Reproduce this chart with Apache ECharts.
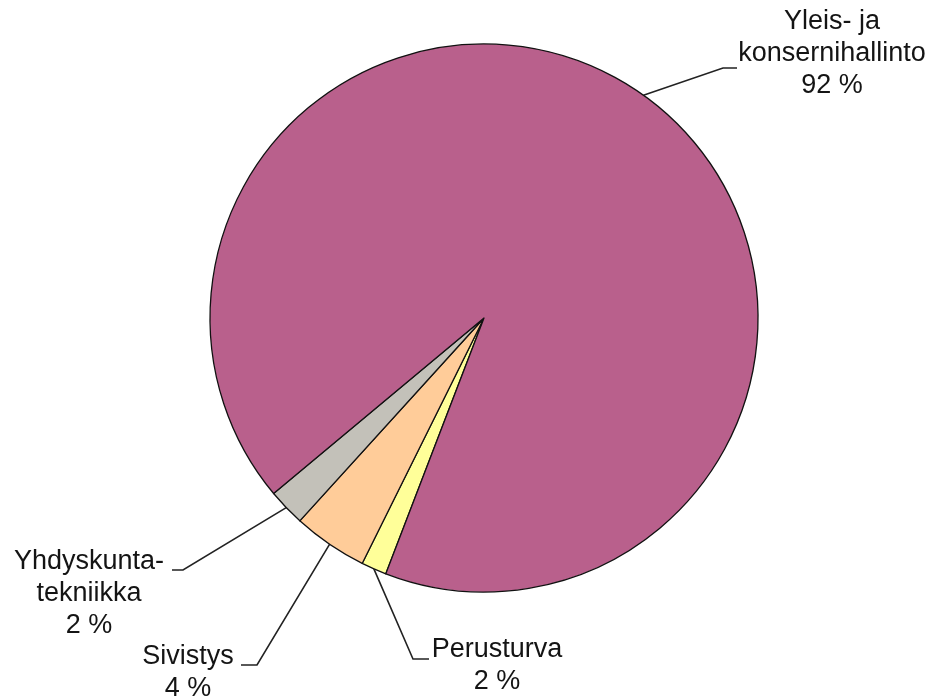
<!DOCTYPE html>
<html>
<head>
<meta charset="utf-8">
<script src="https://cdn.jsdelivr.net/npm/echarts@6/dist/echarts.min.js"></script>
<style>
html,body{margin:0;padding:0;background:#fff;}
#chart{width:936px;height:699px;}
</style>
</head>
<body>
<div id="chart"></div>
<script>
// Data (order as drawn clockwise, starting at the Perusturva slice)
var categories = ['Perusturva', 'Sivistys', 'Yhdyskunta-\ntekniikka', 'Yleis- ja\nkonsernihallinto'];
var shares = [1.5, 4.4, 2.2, 91.9];

// Styles / layout (not data)
var sliceColors = ['#FFFF99', '#FFCC99', '#C3C1B9', '#B9608C'];
var labelLayouts = [
  {x: 497, y: 634, elbow: [413, 659], end: [429, 659]},
  {x: 188, y: 641, elbow: [257, 665], end: [241, 665]},
  {x: 89,  y: 546, elbow: [183, 570], end: [172, 570]},
  {x: 832, y: 6,   elbow: [723, 68],  end: [737, 68]}
];

var chart = echarts.init(document.getElementById('chart'), null, {renderer: 'canvas'});
var seriesData = categories.map(function (c, i) {
  return {name: c, value: shares[i], itemStyle: {color: sliceColors[i]}};
});

chart.setOption({
  animation: false,
  backgroundColor: '#ffffff',
  series: [{
    type: 'pie',
    center: [484, 318],
    radius: 274,
    startAngle: 249,
    clockwise: true,
    avoidLabelOverlap: false,
    silent: true,
    emphasis: {disabled: true},
    itemStyle: {borderColor: '#111111', borderWidth: 1.3},
    label: {
      show: true,
      position: 'outside',
      formatter: function (p) { return p.name + '\n' + Math.round(p.percent) + ' %'; },
      fontFamily: 'Liberation Sans, Arial, sans-serif',
      fontSize: 27,
      lineHeight: 32,
      color: '#141414',
      align: 'center'
    },
    labelLine: {
      show: true,
      length: 20,
      length2: 10,
      lineStyle: {color: '#222222', width: 1.6}
    },
    labelLayout: function (params) {
      var L = labelLayouts[params.dataIndex];
      var pts = params.labelLinePoints;
      var start = pts && pts.length ? pts[0] : L.elbow;
      return {
        x: L.x,
        y: L.y,
        align: 'center',
        verticalAlign: 'top',
        labelLinePoints: [start, L.elbow, L.end]
      };
    },
    data: seriesData
  }]
});
</script>
</body>
</html>
